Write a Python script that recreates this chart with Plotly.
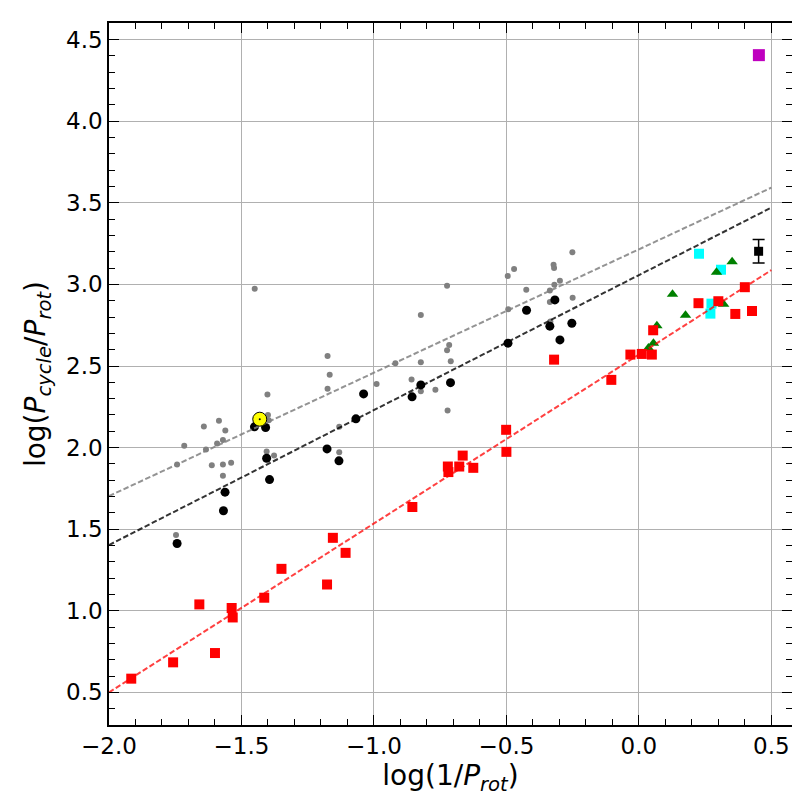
import numpy as np
import plotly.graph_objects as go

# log(1/Prot), log(Pcycle/Prot)
gray_x = [-1.450, -1.402, -1.400, -1.397, -1.642, -1.585, -1.561, -1.716, -1.634, -1.592,
          -1.570, -1.743, -1.612, -1.570, -1.539, -1.570, -1.405, -1.377, -1.747, -1.175,
          -1.167, -1.175, -1.131, -1.131, -0.990, -0.919, -0.858, -0.823, -0.823, -0.823,
          -0.768, -0.724, -0.716, -0.724, -0.710, -0.722, -0.495, -0.471, -0.493, -0.425,
          -0.322, -0.320, -0.298, -0.319, -0.336, -0.336, -0.251, -0.250, -0.334]
gray_y = [2.974, 2.325, 2.199, 2.168, 2.129, 2.164, 2.104, 2.011, 1.988, 2.025,
          2.046, 1.896, 1.892, 1.896, 1.907, 1.827, 1.976, 1.951, 1.464, 2.562,
          2.446, 2.360, 2.127, 1.972, 2.390, 2.517, 2.417, 2.813, 2.523, 2.346,
          2.354, 2.992, 2.629, 2.597, 2.529, 2.227, 3.052, 3.095, 2.848, 2.968,
          3.121, 3.101, 3.023, 2.998, 2.962, 2.892, 3.197, 2.919, 2.772]

black_x = [-1.451, -1.409, -1.405, -1.394, -1.562, -1.568, -1.743, -1.177, -1.132, -1.039,
           -1.068, -0.856, -0.823, -0.711, -0.494, -0.424, -0.317, -0.336, -0.298, -0.253]
black_y = [2.127, 2.123, 1.935, 1.804, 1.727, 1.613, 1.412, 1.992, 1.919, 2.329,
           2.176, 2.311, 2.384, 2.398, 2.640, 2.842, 2.905, 2.744, 2.660, 2.762]

red_x = [-1.916, -1.758, -1.659, -1.600, -1.537, -1.533, -1.414, -1.349, -1.177, -1.107,
         -1.155, -0.855, -0.721, -0.719, -0.678, -0.665, -0.625, -0.501, -0.500, -0.320,
         -0.104, -0.032, 0.011, 0.049, 0.054, 0.225, 0.300, 0.364, 0.400, 0.427]
red_y = [0.584, 0.684, 1.039, 0.741, 1.017, 0.959, 1.080, 1.257, 1.161, 1.355,
         1.447, 1.636, 1.884, 1.850, 1.884, 1.951, 1.876, 2.109, 1.974, 2.539,
         2.415, 2.570, 2.574, 2.570, 2.719, 2.885, 2.897, 2.819, 2.983, 2.837]

green_x = [0.352, 0.293, 0.127, 0.320, 0.176, 0.068, 0.055, 0.036]
green_y = [3.139, 3.074, 2.940, 2.878, 2.811, 2.746, 2.640, 2.610]

cyan_x = [0.227, 0.310, 0.274, 0.270]
cyan_y = [3.188, 3.090, 2.882, 2.821]

magenta_x = [0.453]
magenta_y = [4.405]

err_x = [0.452]
err_y = [3.203]
err_dy = [0.072]

sun_x = [-1.431]
sun_y = [2.174]

# fits: (slope, value at x=0)
fit_range = [-2.0, 0.5]
fit_gray = (0.756, 3.215)
fit_black = (0.827, 3.057)
fit_red = (1.035, 2.570)

fig = go.Figure()


def add_points(x, y, color, size, symbol="circle"):
    fig.add_trace(go.Scatter(
        x=x, y=y, mode="markers",
        marker=dict(color=color, size=size, symbol=symbol, line=dict(width=0)),
    ))


def add_fit(fit, color):
    xs = np.array(fit_range)
    fig.add_trace(go.Scatter(
        x=xs, y=fit[0] * xs + fit[1], mode="lines",
        line=dict(color=color, width=2, dash="5.5px,2.5px"),
    ))


add_points(gray_x, gray_y, "#808080", 6)
add_points(black_x, black_y, "black", 9)
add_points(cyan_x, cyan_y, "#00ffff", 10, "square")
add_points(green_x, green_y, "#008000", 10, "triangle-up")
add_points(red_x, red_y, "#ff0000", 10, "square")
add_points(magenta_x, magenta_y, "#bf00bf", 12, "square")

fig.add_trace(go.Scatter(
    x=err_x, y=err_y, mode="markers",
    marker=dict(color="black", size=9, symbol="square"),
    error_y=dict(type="data", array=err_dy, color="black", thickness=1.5, width=6),
))

add_fit(fit_gray, "rgba(128,128,128,0.85)")
add_fit(fit_black, "rgba(0,0,0,0.8)")
add_fit(fit_red, "rgba(255,0,0,0.75)")

# the Sun
fig.add_trace(go.Scatter(
    x=sun_x, y=sun_y, mode="markers",
    marker=dict(color="#ffff00", size=14, line=dict(color="black", width=1)),
))
add_points(sun_x, sun_y, "black", 2)

axis_style = dict(
    showline=True, linecolor="black", linewidth=1.5, mirror="allticks",
    ticks="inside", ticklen=10, tickwidth=1.3, tickcolor="black",
    showgrid=True, gridcolor="#b0b0b0", gridwidth=1,
    zeroline=False, dtick=0.5, tick0=0, tickformat=".1f",
    tickfont=dict(size=23, color="black"),
    minor=dict(ticks="inside", ticklen=6, tickwidth=1, tickcolor="black",
               dtick=0.1, showgrid=False),
)

fig.update_xaxes(
    range=[-2.0, 0.578],
    title=dict(text="log(1/<i>P</i><sub><i>rot</i></sub>)", font=dict(size=28, color="black"), standoff=6),
    **axis_style,
)
fig.update_yaxes(
    range=[0.3, 4.602],
    title=dict(text="log(<i>P</i><sub><i>cycle</i></sub>/<i>P</i><sub><i>rot</i></sub>)",
               font=dict(size=28, color="black"), standoff=12),
    **axis_style,
)

fig.update_layout(
    width=800, height=800,
    margin=dict(l=101, r=16, t=15, b=83),
    plot_bgcolor="white", paper_bgcolor="white",
    font=dict(family="DejaVu Sans"),
    showlegend=False,
)

fig.write_html("out.html")
